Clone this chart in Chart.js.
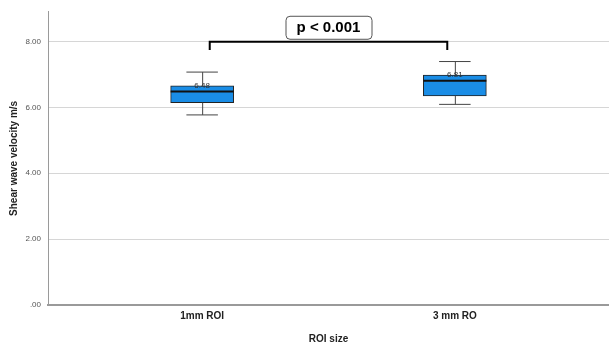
<!DOCTYPE html>
<html>
<head>
<meta charset="utf-8">
<script src="https://cdn.jsdelivr.net/npm/chart.js@4.4.1/dist/chart.umd.min.js"></script>
<style>
  html, body { margin: 0; padding: 0; background: #fff; }
  #wrap { width: 609px; height: 345px; }
</style>
</head>
<body>
<div id="wrap"><canvas id="boxChart"></canvas></div>
<script>
const groups = ["1mm ROI", "3 mm RO"];
const groupX = [1, 2];
const whiskerLow = [5.77, 6.09];
const q1 = [6.14, 6.35];
const median = [6.48, 6.81];
const q3 = [6.65, 6.98];
const whiskerHigh = [7.07, 7.39];
const yTicks = [0, 2, 4, 6, 8];
const pLabel = "p < 0.001";
const bracket = { from: 1.03, to: 1.97, y: 7.99, drop: 0.25 };

// whiskers, caps, medians and the significance bracket
const boxExtras = {
  id: "boxExtras",
  afterDatasetsDraw(chart) {
    const { ctx, scales: { x, y } } = chart;
    const meta = chart.getDatasetMeta(0);
    ctx.save();
    groupX.forEach((gx, i) => {
      const cx = x.getPixelForValue(gx);
      const half = meta.data[i].width / 2;
      const cap = half / 2;
      ctx.strokeStyle = "#444";
      ctx.lineWidth = 1;
      ctx.beginPath();
      ctx.moveTo(cx + 0.5, y.getPixelForValue(whiskerHigh[i]));
      ctx.lineTo(cx + 0.5, y.getPixelForValue(q3[i]));
      ctx.moveTo(cx + 0.5, y.getPixelForValue(q1[i]));
      ctx.lineTo(cx + 0.5, y.getPixelForValue(whiskerLow[i]));
      ctx.moveTo(cx - cap, y.getPixelForValue(whiskerHigh[i]));
      ctx.lineTo(cx + cap, y.getPixelForValue(whiskerHigh[i]));
      ctx.moveTo(cx - cap, y.getPixelForValue(whiskerLow[i]));
      ctx.lineTo(cx + cap, y.getPixelForValue(whiskerLow[i]));
      ctx.stroke();

      const my = y.getPixelForValue(median[i]);
      ctx.strokeStyle = "#111";
      ctx.lineWidth = 2;
      ctx.beginPath();
      ctx.moveTo(cx - half, my);
      ctx.lineTo(cx + half, my);
      ctx.stroke();

      ctx.fillStyle = "#333";
      ctx.font = "8px 'Liberation Sans', Arial, sans-serif";
      ctx.textAlign = "center";
      ctx.textBaseline = "bottom";
      ctx.fillText(median[i].toFixed(2), cx, my - 2);
    });

    const bx1 = x.getPixelForValue(bracket.from);
    const bx2 = x.getPixelForValue(bracket.to);
    const by = y.getPixelForValue(bracket.y);
    const by2 = y.getPixelForValue(bracket.y - bracket.drop);
    ctx.strokeStyle = "#000";
    ctx.lineWidth = 2;
    ctx.beginPath();
    ctx.moveTo(bx1, by2);
    ctx.lineTo(bx1, by);
    ctx.lineTo(bx2, by);
    ctx.lineTo(bx2, by2);
    ctx.stroke();

    const mid = (bx1 + bx2) / 2;
    const w = 86, h = 23;
    ctx.fillStyle = "#fff";
    ctx.strokeStyle = "#555";
    ctx.lineWidth = 1;
    ctx.beginPath();
    ctx.roundRect(mid - w / 2 + 0.5, by - h - 2.5, w, h, 4);
    ctx.fill();
    ctx.stroke();
    ctx.fillStyle = "#000";
    ctx.font = "bold 15px 'Liberation Sans', Arial, sans-serif";
    ctx.textAlign = "center";
    ctx.textBaseline = "middle";
    ctx.fillText(pLabel, mid, by - h / 2 - 2);
    ctx.restore();
  }
};

new Chart(document.getElementById("boxChart"), {
  type: "bar",
  data: {
    datasets: [{
      data: groupX.map((gx, i) => ({ x: gx, y: [q1[i], q3[i]] })),
      backgroundColor: "#1a8de6",
      borderColor: "#222",
      borderWidth: 1,
      borderSkipped: false,
      barThickness: 63
    }]
  },
  options: {
    responsive: true,
    maintainAspectRatio: false,
    animation: false,
    layout: { padding: { top: 10, right: 0, left: 0, bottom: 0 } },
    plugins: { legend: { display: false }, tooltip: { enabled: false } },
    scales: {
      x: {
        type: "linear",
        offset: false,
        min: 0.39,
        max: 2.61,
        afterBuildTicks: (s) => { s.ticks = groupX.map(v => ({ value: v })); },
        afterFit: (s) => { s.height = 40; },
        grid: { display: false, drawTicks: false },
        border: { color: "#9a9a9a", width: 2 },
        ticks: {
          padding: 5,
          color: "#222",
          font: { family: "'Liberation Sans', Arial", size: 10, weight: "bold" },
          callback: (v) => groups[groupX.indexOf(v)] || ""
        },
        title: {
          display: true,
          text: "ROI size",
          color: "#222",
          padding: { top: 8, bottom: 0 },
          font: { family: "'Liberation Sans', Arial", size: 10, weight: "bold" }
        }
      },
      y: {
        min: 0,
        max: 8.9,
        afterBuildTicks: (s) => { s.ticks = yTicks.map(v => ({ value: v })); },
        afterFit: (s) => { s.width = 48; },
        grid: { color: "#d6d6d6", drawTicks: false },
        border: { color: "#9a9a9a", width: 1 },
        ticks: {
          padding: 7,
          color: "#555",
          font: { family: "'Liberation Sans', Arial", size: 8 },
          callback: (v) => v === 0 ? ".00" : v.toFixed(2)
        },
        title: {
          display: true,
          text: "Shear wave velocity m/s",
          color: "#222",
          padding: { top: 8, bottom: 0 },
          font: { family: "'Liberation Sans', Arial", size: 10, weight: "bold" }
        }
      }
    }
  },
  plugins: [boxExtras]
});
</script>
</body>
</html>
